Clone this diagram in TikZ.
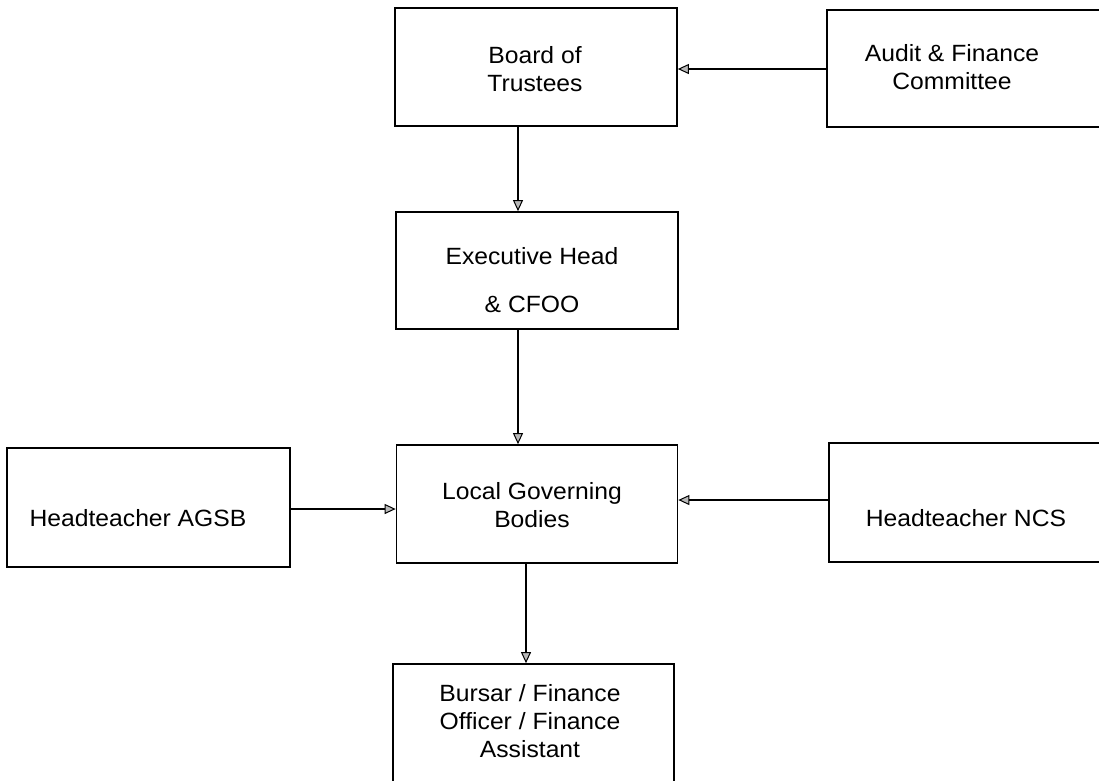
\documentclass[tikz,border=0pt]{standalone}
\usepackage{fontspec}
\setmainfont{Liberation Sans}[FakeStretch=1.05]
\usetikzlibrary{arrows.meta}
\begin{document}
\begin{tikzpicture}[x=1pt,y=-1pt,
  box/.style={draw=black, line width=1.7pt, inner sep=0pt, rectangle},
  lbl/.style={inner sep=0pt, align=center, font=\fontsize{23.5}{28}\selectfont},
  arr/.style={draw=black, line width=1.3pt, -{Triangle[length=11pt,width=10pt,fill=gray!55,line width=1pt]}}]
\useasboundingbox (0,0) rectangle (1099,780);
\clip (0,0) rectangle (1099,780);
\fill[white] (0,0) rectangle (1099,780);
% boxes
\node[box, minimum width=282pt, minimum height=118pt] (board) at (536,67) {};
\node[box, minimum width=290pt, minimum height=117pt] (audit) at (972,68.5) {};
\node[box, minimum width=282pt, minimum height=117pt] (exec) at (537,270.5) {};
\node[box, minimum width=281pt, minimum height=118pt] (lgb) at (537,504) {};
\node[box, minimum width=283pt, minimum height=119pt] (agsb) at (148.5,507.5) {};
\node[box, minimum width=282pt, minimum height=119pt] (ncs) at (970,502.5) {};
\node[box, minimum width=281pt, minimum height=126pt] (bursar) at (533.5,727) {};
% labels
\node[lbl] (boardT) at (535,69) {Board of\\Trustees};
\node[lbl] (auditT) at (952,67) {Audit \& Finance\\Committee};
\node[lbl] (execT1) at (532,256) {Executive Head};
\node[lbl] (execT2) at (532,304) {\& CFOO};
\node[lbl] (lgbT) at (532,505) {Local Governing\\Bodies};
\node[lbl] (agsbT) at (138,518) {Headteacher AGSB};
\node[lbl] (ncsT) at (966,518) {Headteacher NCS};
\node[lbl] (bursarT) at (530,721) {Bursar / Finance\\Officer / Finance\\Assistant};
% connectors
\draw[arr] (audit.west |- 0,69) -- (board.east |- 0,69);
\draw[arr] (board.south -| 518,0) -- (exec.north -| 518,0);
\draw[arr] (exec.south -| 518,0) -- (lgb.north -| 518,0);
\draw[arr] (agsb.east |- 0,509) -- (lgb.west |- 0,509);
\draw[arr] (ncs.west |- 0,500) -- (lgb.east |- 0,500);
\draw[arr] (lgb.south -| 526,0) -- (bursar.north -| 526,0);
\end{tikzpicture}
\end{document}
